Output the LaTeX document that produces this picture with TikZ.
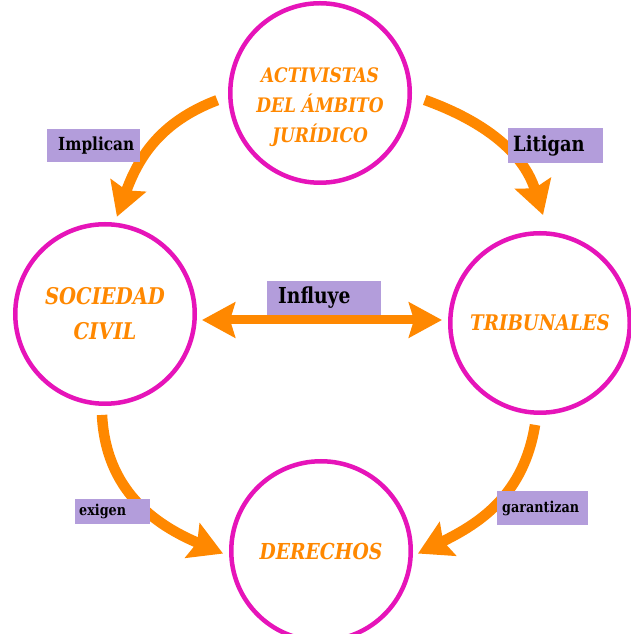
\documentclass[tikz,border=0pt]{standalone}
\usepackage{fontspec}
\setmainfont{Liberation Serif}
\newfontfamily\circfont{DejaVu Serif}[FakeStretch=0.85]
\newfontfamily\lblfont{DejaVu Serif}[FakeStretch=0.85]
\usetikzlibrary{arrows.meta,calc}
\definecolor{orng}{RGB}{255,136,0}
\definecolor{mag}{RGB}{230,20,185}
\definecolor{lav}{RGB}{179,157,219}
\begin{document}
\begin{tikzpicture}[x=1pt,y=1pt,
  circ/.style={circle, draw=mag, line width=4.5pt, minimum size=179.5pt, inner sep=0pt},
  ctext/.style={text=orng, align=center, font=\circfont\bfseries\itshape\fontsize{20}{30}\selectfont},
  lbl/.style={fill=lav, inner xsep=0pt, inner ysep=0pt, anchor=west, align=left, text=black},
  arr/.style={draw=orng, line width=10.5pt, -{Stealth[length=33pt,width=37pt,inset=5pt]}},
  dbl/.style={draw=orng, line width=9pt, {Stealth[length=33pt,width=35pt,inset=5pt]}-{Stealth[length=33pt,width=35pt,inset=5pt]}}]
\useasboundingbox (0,0) rectangle (631,634);
\fill[white] (0,0) rectangle (631,634);
% circles
\node[circ, label={[ctext, yshift=-14pt]center:ACTIVISTAS\\DEL ÁMBITO\\JURÍDICO}] (act) at (320,541) {};
\node[circ, ctext, font=\circfont\bfseries\itshape\fontsize{23}{35}\selectfont] (soc) at (105,320) {SOCIEDAD\\CIVIL};
\node[circ, ctext, font=\circfont\bfseries\itshape\fontsize{21.5}{30}\selectfont] (tri) at (540,311) {TRIBUNALES};
\node[circ, ctext, font=\circfont\bfseries\itshape\fontsize{22}{30}\selectfont] (der) at (321,83) {DERECHOS};
% arrows
\draw[arr] ($(act.center)+(184:103)$) .. controls +(-58,-22) and +(21,58) .. ($(soc.center)+(83:98)$);
\draw[arr] ($(act.center)+(-3.8:105)$) .. controls +(61,-22) and +(-19.5,61.75) .. ($(tri.center)+(88.4:108)$);
\draw[dbl] ([xshift=5pt,yshift=-6pt]soc.east) -- ([xshift=-6pt,yshift=3pt]tri.west);
\draw[arr] ($(soc.center)+(268.3:101)$) .. controls +(3.75,-75) and +(-69,29.25) .. ($(der.center)+(181.5:98)$);
\draw[arr] ($(tri.center)+(267.2:102)$) .. controls +(-11.2,-69.3) and +(63,30.8) .. ($(der.center)+(-1.5:97)$);
% labels
\node[lbl, text width=93pt, minimum height=33pt, font=\lblfont\bfseries\fontsize{18}{20}\selectfont] (limp) at (47,488.5) {\hspace*{11pt}Implican};
\node[lbl, text width=95pt, minimum height=35pt, font=\lblfont\bfseries\fontsize{21}{24}\selectfont] (llit) at (508,488.5) {\hspace*{5pt}Litigan};
\node[lbl, text width=114pt, minimum height=34pt, font=\lblfont\bfseries\fontsize{22}{25}\selectfont] (linf) at (267,336) {\hspace*{11pt}Influye};
\node[lbl, text width=75pt, minimum height=25pt, font=\lblfont\bfseries\fontsize{15}{19}\selectfont] (lexi) at (75,122.5) {\hspace*{4pt}exigen};
\node[lbl, text width=91pt, minimum height=34pt, font=\lblfont\bfseries\fontsize{15}{18}\selectfont] (lgar) at (497,126) {\hspace*{5pt}garantizan};
\end{tikzpicture}
\end{document}
